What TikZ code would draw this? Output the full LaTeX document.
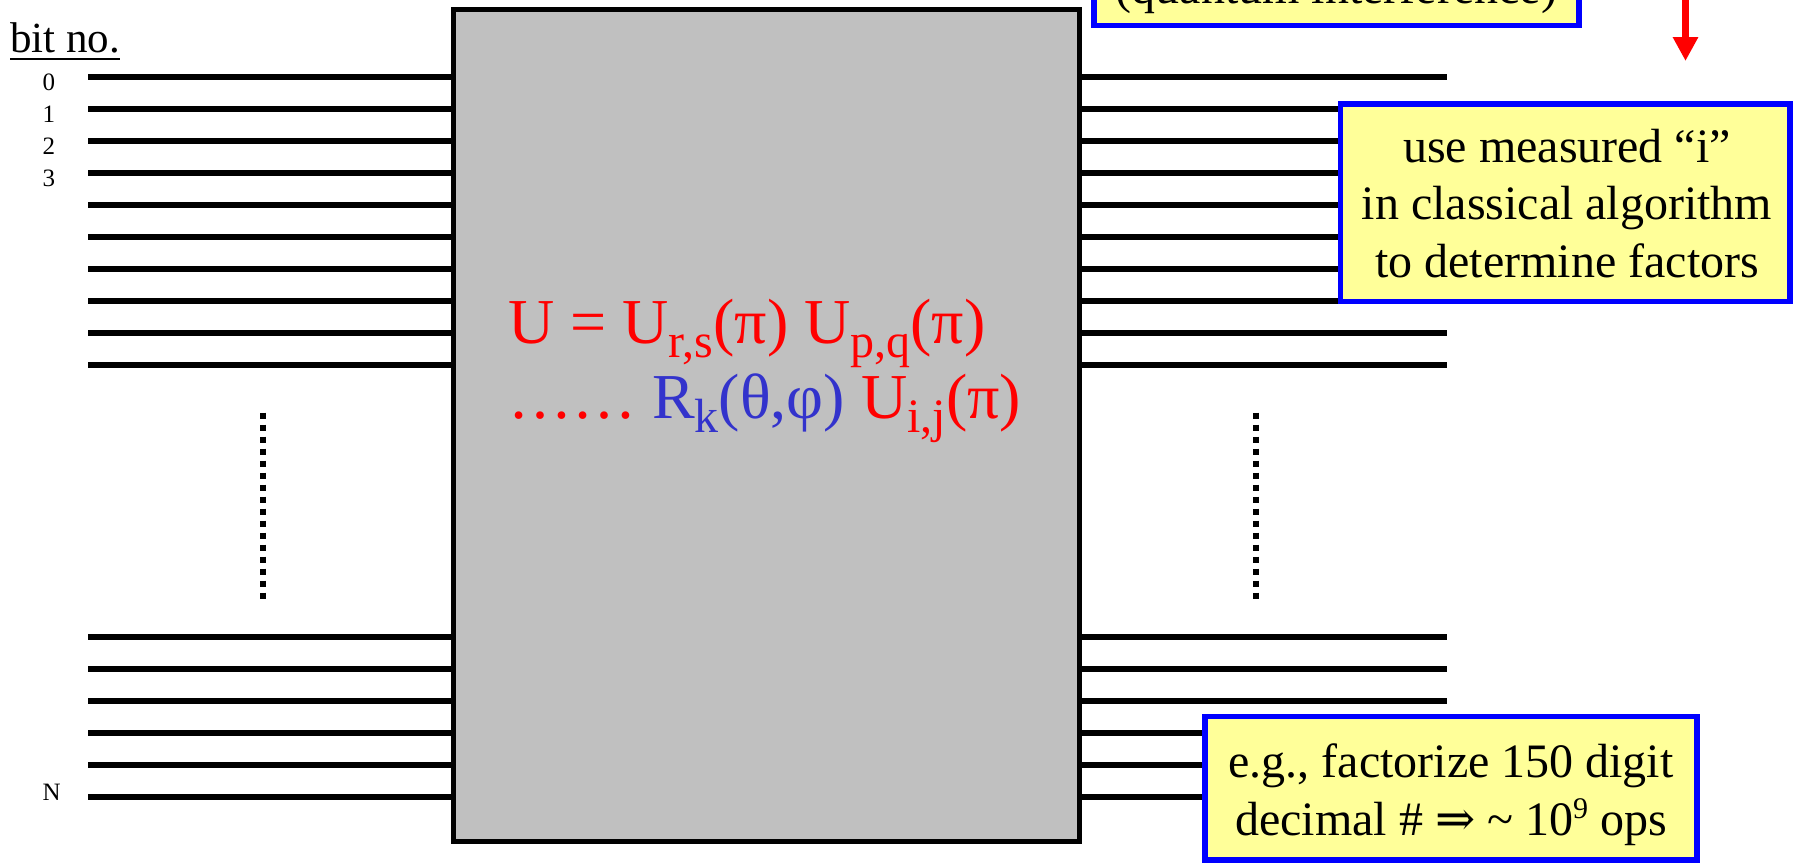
\documentclass[tikz,border=0pt]{standalone}
\usepackage{fontspec}
\setmainfont{Liberation Serif}
\newfontfamily\arrowfont{DejaVu Serif}
\usetikzlibrary{arrows.meta}
\definecolor{gatefill}{HTML}{C0C0C0}
\definecolor{noteyellow}{HTML}{FFFF99}
\definecolor{noteblue}{HTML}{0000FF}
\definecolor{eqred}{HTML}{FF0000}
\definecolor{eqblue}{HTML}{3333CC}
\newcommand{\lowsub}[1]{\raisebox{-14pt}{\fontsize{48}{48}\selectfont #1}}
\newcommand{\highsup}[1]{\raisebox{17pt}{\fontsize{30}{30}\selectfont #1}}
\begin{document}
\begin{tikzpicture}[x=1pt,y=-1pt,
  wire/.style={line width=6pt, line cap=butt},
  ellipsisline/.style={line width=6pt, line cap=butt, dash pattern=on 6pt off 6pt},
  gate/.style={draw=black, fill=gatefill, line width=5.5pt, inner sep=0pt, outer sep=0pt},
  notebox/.style={draw=noteblue, fill=noteyellow, line width=5.5pt, inner sep=0pt, outer sep=0pt},
  notetext/.style={inner sep=0pt, align=center, font=\fontsize{48}{57.5}\selectfont},
  bitlabel/.style={inner sep=0pt, anchor=base west, font=\fontsize{25}{25}\selectfont},
  eqtext/.style={inner sep=0pt, anchor=base west, font=\fontsize{64}{75}\selectfont},
  measarrow/.style={draw=eqred, line width=7pt, -{Triangle[length=24pt,width=24pt]}}
]
\path[use as bounding box] (0,0) rectangle (1793,865);
\clip (0,0) rectangle (1793,865);

% gate (unitary)
\node[gate, minimum width=626.2pt, minimum height=832pt] (gate) at (766.4,425.7) {};

% wires, upper group
\foreach \k in {0,...,9} {
  \coordinate (inL\k) at (88,{77+31.95*\k});
  \coordinate (outR\k) at (1447,{77+31.95*\k});
  \draw[wire] (inL\k) -- (inL\k -| gate.west);
  \draw[wire] (gate.east |- outR\k) -- (outR\k);
}
% wires, lower group
\foreach \k in {0,...,5} {
  \coordinate (inLb\k) at (88,{636.7+32*\k});
  \coordinate (outRb\k) at (1447,{636.7+32*\k});
  \draw[wire] (inLb\k) -- (inLb\k -| gate.west);
  \draw[wire] (gate.east |- outRb\k) -- (outRb\k);
}

% vertical dotted continuation marks
\coordinate (dotLtop) at (263.3,412.7);
\coordinate (dotLbot) at (263.3,598.7);
\coordinate (dotRtop) at (1255.7,412.7);
\coordinate (dotRbot) at (1255.7,598.7);
\draw[ellipsisline] (dotLtop) -- (dotLbot);
\draw[ellipsisline] (dotRtop) -- (dotRbot);

% bit labels
\node[inner sep=0pt, anchor=base west, font=\fontsize{43}{43}\selectfont] (bitno) at (10,52) {bit no.};
\draw[line width=2.2pt] ([yshift=-6.8pt]bitno.base west) -- ([yshift=-6.8pt]bitno.base east);
\node[bitlabel] (b0) at (42.5,90) {0};
\node[bitlabel] (b1) at (42.5,122) {1};
\node[bitlabel] (b2) at (42.5,154) {2};
\node[bitlabel] (b3) at (42.5,186) {3};
\node[bitlabel] (bN) at (42.5,800.5) {N};

% equation in the gate
\node[eqtext, text=eqred] (eq1) at (508,343) {U = U\lowsub{r,s}(π) U\lowsub{p,q}(π)};
\node[eqtext, text=eqred] (eq2) at (508,418) {…… \textcolor{eqblue}{R\lowsub{k}(θ,φ)} U\lowsub{i,j}(π)};

% top note (cut off)
\node[notebox, minimum width=485pt, minimum height=200pt, anchor=south] (qbox) at (1336.5,25.5) {};
\node[notetext, anchor=base] (qtext) at (1336.5,3) {(quantum interference)};

% red arrow
\coordinate (arrowtail) at (1685.5,-20);
\coordinate (arrowtip) at (1685.5,61);
\draw[measarrow] (arrowtail) -- (arrowtip);

% right note
\node[notebox, minimum width=449.3pt, minimum height=197.5pt] (measbox) at (1565.35,202.75) {};
\node[notetext] (meastext) at (1567,203.1) {use measured “i”\\in classical algorithm\\to determine factors};

% bottom note
\node[notebox, minimum width=492pt, minimum height=143.3pt] (factbox) at (1451,788.35) {};
\node[notetext] (facttext) at (1451,794.6) {e.g., factorize 150 digit\\decimal \# {\arrowfont ⇒} \textasciitilde{} 10\highsup{9} ops};
\end{tikzpicture}
\end{document}
